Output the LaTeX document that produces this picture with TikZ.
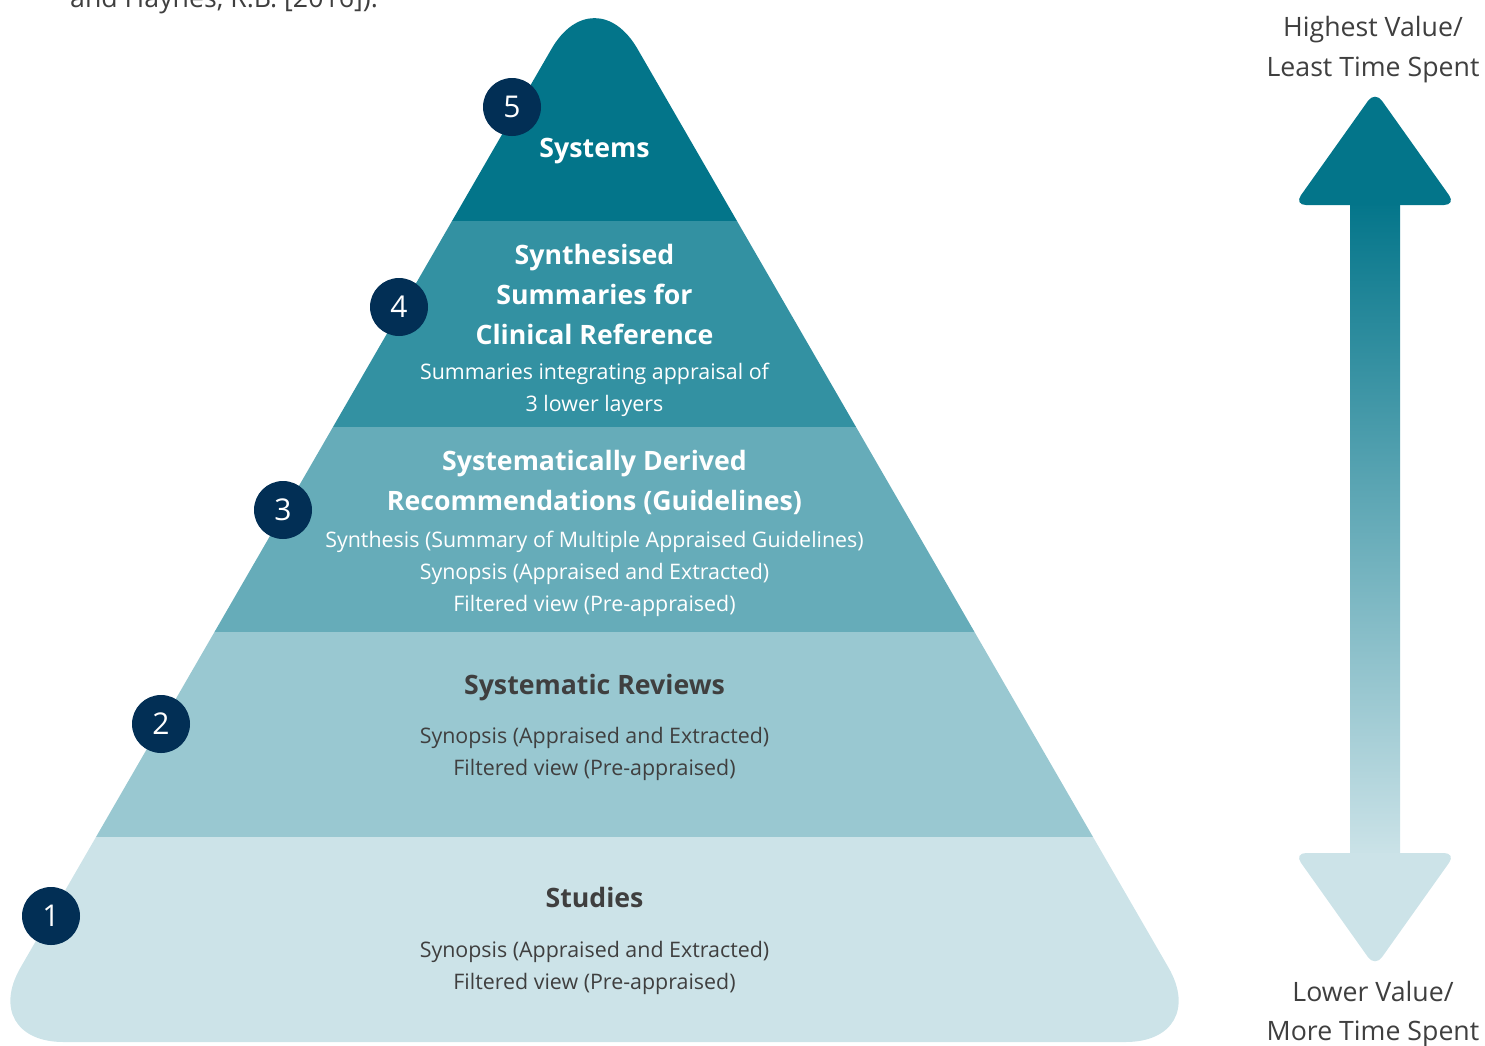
\documentclass[tikz,border=0pt]{standalone}
\usepackage{fontspec}
\setmainfont{Open Sans}
\definecolor{tfive}{HTML}{03758A}
\definecolor{tfour}{HTML}{3391A2}
\definecolor{tthree}{HTML}{66ACB9}
\definecolor{ttwo}{HTML}{99C8D1}
\definecolor{tone}{HTML}{CCE3E8}
\definecolor{navy}{HTML}{022F55}
\definecolor{txt}{HTML}{3F3F3F}
\begin{document}
\begin{tikzpicture}[x=1pt,y=-1pt,
  hd/.style={anchor=base,inner sep=0pt,font=\fontsize{26.7}{40}\selectfont\bfseries},
  rg/.style={anchor=base,inner sep=0pt,font=\fontsize{21.4}{32}\selectfont},
  side/.style={anchor=base,inner sep=0pt,text=txt,font=\fontsize{26.7}{40}\selectfont},
  numc/.style={circle,fill=navy,minimum size=58pt,inner sep=0pt,text=white,font=\fontsize{30}{30}\selectfont}]
\useasboundingbox (0,0) rectangle (1485,1045);
% clipped caption remnant
\begin{scope}
\clip (0,0) rectangle (1485,1045);
\node[side,anchor=base west] (cap) at (70,7) {and Haynes, R.B. [2016]).};
\end{scope}
% pyramid
\begin{scope}
\clip[rounded corners=86pt] (594.5,-25.5) -- (-22.5,1042) -- (1211.5,1042) -- cycle;
\fill[tfive] (-30,-40) rectangle (1220,221);
\fill[tfour] (-30,221) rectangle (1220,427);
\fill[tthree] (-30,427) rectangle (1220,632);
\fill[ttwo] (-30,632) rectangle (1220,837);
\fill[tone] (-30,837) rectangle (1220,1050);
\end{scope}
% tier texts
\node[hd,text=white] (s5) at (594.5,157) {Systems};
\node[hd,text=white] (s4a) at (594.5,264) {Synthesised};
\node[hd,text=white] (s4b) at (594.5,304) {Summaries for};
\node[hd,text=white] (s4c) at (594.5,344) {Clinical Reference};
\node[rg,text=white] (s4d) at (594.5,379) {Summaries integrating appraisal of};
\node[rg,text=white] (s4e) at (594.5,411) {3 lower layers};
\node[hd,text=white] (s3a) at (594.5,470) {Systematically Derived};
\node[hd,text=white] (s3b) at (594.5,510) {Recommendations (Guidelines)};
\node[rg,text=white] (s3c) at (594.5,547) {Synthesis (Summary of Multiple Appraised Guidelines)};
\node[rg,text=white] (s3d) at (594.5,579) {Synopsis (Appraised and Extracted)};
\node[rg,text=white] (s3e) at (594.5,611) {Filtered view (Pre-appraised)};
\node[hd,text=txt] (s2a) at (594.5,694) {Systematic Reviews};
\node[rg,text=txt] (s2b) at (594.5,743) {Synopsis (Appraised and Extracted)};
\node[rg,text=txt] (s2c) at (594.5,775) {Filtered view (Pre-appraised)};
\node[hd,text=txt] (s1a) at (594.5,907) {Studies};
\node[rg,text=txt] (s1b) at (594.5,957) {Synopsis (Appraised and Extracted)};
\node[rg,text=txt] (s1c) at (594.5,989) {Filtered view (Pre-appraised)};
% number badges
\node[numc] (n5) at (512,107) {5};
\node[numc] (n4) at (399,307) {4};
\node[numc] (n3) at (283,510) {3};
\node[numc] (n2) at (161,724) {2};
\node[numc] (n1) at (51,916) {1};
% value arrow
\shade[top color=tfive,bottom color=tone] (1350,200) rectangle (1400,858);
\fill[tfive,rounded corners=12pt] (1375,91) -- (1456,205) -- (1294,205) -- cycle;
\fill[tone,rounded corners=12pt] (1375,967) -- (1294,853) -- (1456,853) -- cycle;
\node[side] (hv1) at (1373,36) {Highest Value/};
\node[side] (hv2) at (1373,76) {Least Time Spent};
\node[side] (lv1) at (1373,1001) {Lower Value/};
\node[side] (lv2) at (1373,1040) {More Time Spent};
\end{tikzpicture}
\end{document}
